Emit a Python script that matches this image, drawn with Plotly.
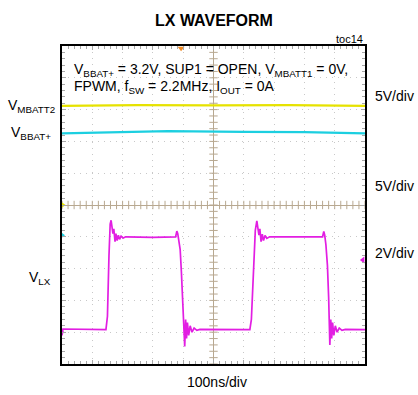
import numpy as np
import plotly.graph_objects as go

# ---- data (time in ns from left edge of screen, amplitude in screen divisions) ----
t_mbatt2 = [0, 250, 500, 750, 1000]
v_mbatt2 = [3.12, 3.14, 3.13, 3.14, 3.12]

t_bbat = [0, 150, 350, 600, 800, 1000]
v_bbat = [2.25, 2.28, 2.32, 2.30, 2.29, 2.25]

t_lx = [0, 3, 145, 150, 155, 159, 162, 165, 168, 171, 175, 178, 182, 186, 190, 195, 202, 210,
        300, 375, 379, 382, 386, 390, 394, 398, 402, 405, 408, 411, 414, 418, 423, 429, 436,
        445, 455, 620, 625, 632, 638, 643, 646, 650, 653, 657, 661, 665, 670, 676, 685, 860,
        864, 867, 871, 876, 880, 884, 887, 890, 893, 897, 902, 908, 915, 924, 935, 1000]
v_lx = [-4.1, -3.9, -3.92, -3.5, -1.6, -0.6, -0.48, -0.7, -0.9, -0.75, -1.15, -0.9, -1.12, -0.95,
        -1.08, -0.98, -1.04, -1.0, -1.02, -1.0, -0.82, -0.9, -1.1, -1.4, -2.1, -3.0, -3.8, -4.45,
        -3.6, -4.2, -3.7, -4.1, -3.8, -4.0, -3.87, -3.94, -3.91, -3.92, -3.6, -2.0, -0.8, -0.5,
        -0.65, -0.95, -0.75, -1.15, -0.92, -1.12, -0.96, -1.05, -1.0, -1.0, -0.83, -0.95, -1.25,
        -1.9, -2.9, -4.4, -3.6, -4.2, -3.7, -4.1, -3.8, -4.0, -3.87, -3.94, -3.91, -3.92]

trigger_pos_ns = 393
gnd_mbatt2 = 0.0
gnd_bbat = -0.95
gnd_lx = -4.0
trig_level = -1.73

channel_scales = ["5V/div", "5V/div", "2V/div"]
time_scale = "100ns/div"

FONT = "Liberation Sans, Arial, sans-serif"
YEL = "#e6e200"
CYA = "#1ccfe0"
MAG = "#e21ee2"
AXC = "#b8a890"


def rel(ts):
    return [t - 500 for t in ts]


fig = go.Figure()

# center cross minor ticks
xt = np.arange(-500, 501, 20)
fig.add_trace(go.Scatter(x=xt, y=[0] * len(xt), mode="markers", hoverinfo="skip",
                         marker=dict(symbol="line-ns-open", size=6, color=AXC,
                                     line=dict(color=AXC, width=1))))
yt = np.arange(-5, 5.001, 0.2)
fig.add_trace(go.Scatter(x=[0] * len(yt), y=yt, mode="markers", hoverinfo="skip",
                         marker=dict(symbol="line-ew-open", size=6, color=AXC,
                                     line=dict(color=AXC, width=1))))

fig.add_trace(go.Scatter(x=rel(t_mbatt2), y=v_mbatt2, mode="lines",
                         line=dict(color=YEL, width=2.2), hoverinfo="skip"))
fig.add_trace(go.Scatter(x=rel(t_bbat), y=v_bbat, mode="lines",
                         line=dict(color=CYA, width=2.2), hoverinfo="skip"))
fig.add_trace(go.Scatter(x=rel(t_lx), y=v_lx, mode="lines",
                         line=dict(color=MAG, width=1.7), hoverinfo="skip"))

# channel / trigger markers
fig.add_trace(go.Scatter(x=[-500], y=[gnd_mbatt2], mode="markers", cliponaxis=False,
                         marker=dict(symbol="triangle-right", size=7, color=YEL)))
fig.add_trace(go.Scatter(x=[-500], y=[gnd_bbat], mode="markers", cliponaxis=False,
                         marker=dict(symbol="triangle-right", size=6, color=CYA)))
fig.add_trace(go.Scatter(x=[-500], y=[gnd_lx], mode="markers", cliponaxis=False,
                         marker=dict(symbol="triangle-right", size=5, color=MAG)))
fig.add_trace(go.Scatter(x=[493], y=[trig_level], mode="markers", cliponaxis=False,
                         marker=dict(symbol="triangle-left", size=6, color=MAG)))
fig.add_trace(go.Scatter(x=[trigger_pos_ns - 500], y=[4.93], mode="markers", cliponaxis=False,
                         marker=dict(symbol="triangle-down", size=6, color="#f08a24")))

grid = dict(showgrid=True, gridcolor="#c8c8c8", griddash="1px,5px", gridwidth=1,
            zeroline=True, zerolinecolor=AXC, zerolinewidth=1,
            showline=True, linecolor="black", linewidth=1.6, mirror="allticks",
            ticks="inside", ticklen=4, tickcolor="#a8a8a8", showticklabels=False,
            fixedrange=True)
fig.update_xaxes(range=[-500, 500], dtick=100, tick0=0,
                 minor=dict(ticks="inside", dtick=20, ticklen=3, tickcolor="#a8a8a8", showgrid=False),
                 **grid)
fig.update_yaxes(range=[-5, 5], dtick=1, tick0=0,
                 minor=dict(ticks="inside", dtick=0.2, ticklen=3, tickcolor="#a8a8a8", showgrid=False),
                 **grid)


def ann(text, x, y, size=14, xanchor="left", yanchor="middle", bold=False):
    fig.add_annotation(text=("<b>%s</b>" % text) if bold else text, x=x, y=y,
                       xref="paper", yref="paper", xanchor=xanchor, yanchor=yanchor,
                       showarrow=False, font=dict(family=FONT, size=size, color="black"))


ann("LX WAVEFORM", 0.5, 1.08, size=16, xanchor="center", bold=True)
ann("toc14", 1.0, 1.022, size=11, xanchor="right")
ann("V<sub>BBAT+</sub> = 3.2V, SUP1 = OPEN, V<sub>MBATT1</sub> = 0V,", 0.032, 0.925)
ann("FPWM, f<sub>SW</sub> = 2.2MHz, I<sub>OUT</sub> = 0A", 0.032, 0.87)
ann("V<sub>MBATT2</sub>", -0.016, 0.81, xanchor="right")
ann("V<sub>BBAT+</sub>", -0.03, 0.725, xanchor="right")
ann("V<sub>LX</sub>", -0.03, 0.27, xanchor="right")
ann(channel_scales[0], 1.0264, 0.843)
ann(channel_scales[1], 1.0264, 0.56)
ann(channel_scales[2], 1.0264, 0.349)
ann(time_scale, 0.51, -0.057, xanchor="center")

fig.update_layout(width=418, height=395, margin=dict(l=62, r=53, t=46, b=31),
                  paper_bgcolor="white", plot_bgcolor="white", showlegend=False,
                  font=dict(family=FONT))

fig.write_html("out.html", config={"displayModeBar": False})
